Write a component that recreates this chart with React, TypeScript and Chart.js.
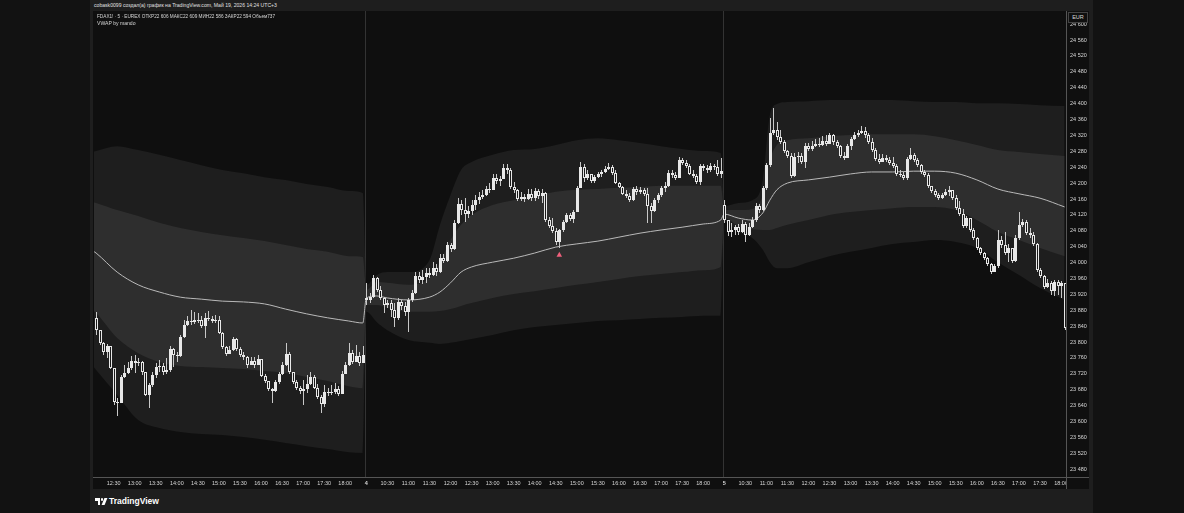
import React, { useEffect, useRef } from 'react';
import { Chart, registerables } from 'chart.js';

Chart.register(...registerables);

const FONT = '"Liberation Sans", Arial, Helvetica, sans-serif';

// ---- sessions ----
const SESSION_DATE_LABELS = ['', '4', '5'];
const SESSION_START_MIN = [12 * 60 + 5, 10 * 60, 10 * 60];
const DAY_OPEN = [23861, 23911, 24145];

// ---- day 1 candles (12:05 .. 18:25) ----
const D1_CLOSE = [
  23830, 23798, 23775, 23790, 23735, 23649, 23647, 23712, 23722, 23735,
  23752, 23747, 23750, 23725, 23667, 23692, 23717, 23737, 23740, 23725,
  23730, 23782, 23767, 23765, 23813, 23843, 23853, 23850, 23855, 23855,
  23840, 23861, 23858, 23853, 23855, 23823, 23788, 23770, 23780, 23808,
  23783, 23767, 23762, 23742, 23752, 23742, 23757, 23715, 23702, 23682,
  23677, 23700, 23720, 23742, 23770, 23725, 23700, 23684, 23677, 23682,
  23695, 23712, 23684, 23662, 23644, 23674, 23672, 23674, 23682, 23669,
  23720, 23742, 23772, 23750, 23765, 23747, 23767,
];
const D1_HIGH = [
  23876, 23823, 23800, 23795, 23780, 23735, 23659, 23717, 23742, 23750,
  23765, 23767, 23760, 23752, 23725, 23697, 23725, 23747, 23755, 23747,
  23760, 23790, 23785, 23775, 23818, 23855, 23866, 23881, 23876, 23873,
  23866, 23873, 23878, 23866, 23868, 23866, 23825, 23790, 23790, 23813,
  23810, 23788, 23775, 23765, 23762, 23762, 23767, 23755, 23720, 23702,
  23684, 23705, 23725, 23750, 23798, 23775, 23725, 23705, 23689, 23705,
  23717, 23725, 23717, 23695, 23667, 23692, 23684, 23692, 23697, 23689,
  23727, 23750, 23798, 23780, 23793, 23775, 23790,
];
const D1_LOW = [
  23818, 23793, 23767, 23760, 23732, 23642, 23614, 23647, 23710, 23720,
  23730, 23722, 23740, 23717, 23664, 23634, 23687, 23710, 23725, 23717,
  23720, 23725, 23737, 23750, 23762, 23810, 23840, 23843, 23845, 23848,
  23835, 23810, 23853, 23848, 23848, 23820, 23783, 23765, 23775, 23778,
  23778, 23762, 23755, 23735, 23742, 23735, 23750, 23712, 23697, 23677,
  23647, 23674, 23695, 23717, 23740, 23720, 23695, 23679, 23669, 23642,
  23672, 23692, 23682, 23657, 23622, 23637, 23664, 23667, 23669, 23664,
  23669, 23720, 23740, 23745, 23755, 23740, 23760,
];

// ---- day 2 candles (10:00 .. 18:25) ----
const D2_CLOSE = [
  23906, 23913, 23961, 23931, 23911, 23893, 23898, 23881, 23861, 23901,
  23891, 23876, 23906, 23923, 23966, 23956, 23964, 23974, 23969, 23986,
  23976, 24012, 24004, 24044, 24034, 24100, 24147, 24132, 24122, 24130,
  24145, 24157, 24165, 24170, 24185, 24183, 24213, 24205, 24210, 24238,
  24233, 24190, 24183, 24160, 24165, 24160, 24173, 24162, 24180, 24168,
  24175, 24107, 24092, 24079, 24052, 24082, 24102, 24120, 24110, 24127,
  24188, 24240, 24213, 24223, 24205, 24215, 24223, 24228, 24235, 24240,
  24225, 24200, 24190, 24173, 24168, 24157, 24185, 24178, 24183, 24173,
  24142, 24130, 24157, 24170, 24188, 24193, 24225, 24220, 24213, 24258,
  24250, 24243, 24223, 24218, 24203, 24243, 24238, 24233, 24243, 24240,
  24223, 24230,
];
const D2_HIGH = [
  23949, 23923, 23969, 23964, 23941, 23913, 23906, 23906, 23898, 23911,
  23906, 23901, 23911, 23931, 23976, 23976, 23981, 23986, 23986, 24001,
  23996, 24022, 24022, 24052, 24049, 24107, 24162, 24157, 24162, 24142,
  24157, 24170, 24178, 24183, 24193, 24200, 24223, 24223, 24218, 24248,
  24248, 24238, 24203, 24185, 24178, 24173, 24185, 24185, 24188, 24185,
  24185, 24178, 24115, 24112, 24087, 24084, 24107, 24125, 24125, 24132,
  24193, 24253, 24248, 24233, 24218, 24220, 24228, 24233, 24243, 24250,
  24245, 24233, 24203, 24193, 24183, 24175, 24190, 24193, 24190, 24188,
  24188, 24150, 24162, 24175, 24193, 24203, 24233, 24233, 24228, 24266,
  24263, 24258, 24248, 24233, 24223, 24248, 24248, 24245, 24250, 24248,
  24258, 24263,
];
const D2_LOW = [
  23893, 23898, 23911, 23926, 23906, 23873, 23886, 23863, 23838, 23855,
  23881, 23866, 23825, 23901, 23921, 23949, 23946, 23949, 23961, 23966,
  23966, 23974, 23999, 24001, 24027, 24032, 24097, 24120, 24102, 24112,
  24120, 24132, 24147, 24160, 24167, 24175, 24188, 24198, 24193, 24210,
  24223, 24185, 24175, 24155, 24155, 24152, 24157, 24155, 24155, 24160,
  24150, 24102, 24087, 24074, 24044, 24036, 24077, 24100, 24105, 24100,
  24127, 24188, 24203, 24208, 24200, 24200, 24213, 24215, 24225, 24233,
  24220, 24198, 24188, 24170, 24162, 24152, 24155, 24170, 24173, 24168,
  24100, 24100, 24127, 24150, 24165, 24178, 24190, 24213, 24208, 24213,
  24245, 24238, 24220, 24213, 24198, 24195, 24230, 24225, 24228, 24233,
  24218, 24213,
];

// ---- day 3 candles (10:00 .. 18:05) ----
const D3_CLOSE = [
  24107, 24077, 24082, 24089, 24077, 24097, 24069, 24089, 24107, 24142,
  24132, 24188, 24245, 24326, 24334, 24316, 24303, 24281, 24268, 24218,
  24266, 24268, 24253, 24293, 24286, 24293, 24298, 24296, 24306, 24298,
  24321, 24303, 24293, 24268, 24263, 24293, 24311, 24321, 24326, 24331,
  24321, 24303, 24283, 24261, 24253, 24263, 24258, 24251, 24243, 24223,
  24220, 24213, 24261, 24271, 24258, 24245, 24228, 24220, 24193, 24180,
  24170, 24162, 24170, 24178, 24183, 24162, 24137, 24122, 24092, 24112,
  24082, 24062, 24037, 24024, 24012, 23996, 23976, 23991, 24057, 24044,
  24024, 24037, 24004, 24062, 24095, 24102, 24074, 24069, 24047, 23981,
  23966, 23939, 23949, 23928, 23951, 23941, 23949, 23835,
];
const D3_HIGH = [
  24157, 24107, 24100, 24095, 24097, 24107, 24102, 24100, 24115, 24150,
  24147, 24193, 24250, 24364, 24389, 24354, 24334, 24308, 24283, 24276,
  24276, 24278, 24276, 24301, 24301, 24306, 24311, 24313, 24318, 24321,
  24326, 24323, 24308, 24296, 24278, 24298, 24316, 24328, 24334, 24343,
  24341, 24326, 24313, 24288, 24273, 24273, 24271, 24266, 24266, 24248,
  24233, 24228, 24266, 24288, 24276, 24263, 24248, 24233, 24225, 24193,
  24185, 24175, 24175, 24185, 24193, 24183, 24170, 24155, 24135, 24117,
  24112, 24087, 24064, 24039, 24027, 24014, 23999, 23996, 24082, 24067,
  24077, 24047, 24037, 24069, 24127, 24110, 24107, 24087, 24077, 24049,
  23986, 23969, 23959, 23954, 23956, 23956, 23954, 23944,
];
const D3_LOW = [
  24100, 24067, 24064, 24069, 24069, 24074, 24052, 24067, 24087, 24102,
  24125, 24130, 24183, 24240, 24321, 24308, 24298, 24276, 24263, 24213,
  24215, 24251, 24248, 24238, 24281, 24281, 24291, 24291, 24293, 24293,
  24298, 24296, 24288, 24263, 24258, 24263, 24283, 24308, 24316, 24323,
  24313, 24298, 24278, 24256, 24248, 24256, 24253, 24245, 24238, 24218,
  24215, 24208, 24208, 24258, 24253, 24240, 24223, 24215, 24188, 24175,
  24165, 24157, 24160, 24167, 24167, 24157, 24132, 24117, 24087, 24087,
  24077, 24057, 24032, 24019, 24006, 23991, 23971, 23976, 23986, 24037,
  24019, 24001, 23999, 24001, 24057, 24089, 24069, 24062, 24042, 23976,
  23961, 23934, 23936, 23918, 23916, 23918, 23911, 23830,
];

// ---- VWAP and deviation bands, sampled at bar indices ----
const BAND_K = [
  -1, 0, 6, 12, 18, 24, 30, 36, 42, 48, 54, 60, 66, 72, 76,
  77, 80, 83, 89, 95, 98, 101, 104, 107, 113, 119, 125, 131, 137, 143, 149, 155, 161, 167, 173, 178,
  179, 183, 187, 190, 192, 194, 197, 203, 209, 215, 221, 227, 233, 239, 245, 251, 257, 263, 269, 276,
];
const VWAP = [
  24030, 24024, 23976, 23944, 23926, 23913, 23908, 23903, 23901, 23896, 23883, 23871, 23861, 23853, 23848,
  23911, 23916, 23911, 23906, 23913, 23926, 23949, 23976, 23989, 24001, 24011, 24024, 24039, 24047, 24054, 24064, 24074, 24082, 24089, 24097, 24107,
  24122, 24112, 24107, 24125, 24157, 24183, 24200, 24208, 24215, 24223, 24228, 24228, 24230, 24230, 24225, 24208, 24185, 24173, 24162, 24140,
];
const UPPER1 = [
  24152, 24150, 24132, 24117, 24100, 24087, 24077, 24069, 24062, 24054, 24044, 24034, 24027, 24016, 24014,
  23931, 23951, 23949, 23944, 23961, 24001, 24057, 24095, 24120, 24145, 24157, 24167, 24178, 24183, 24185, 24188, 24190, 24193, 24193, 24193, 24193,
  24132, 24132, 24135, 24170, 24258, 24296, 24308, 24313, 24318, 24321, 24323, 24323, 24323, 24318, 24308, 24296, 24283, 24278, 24273, 24268,
];
const UPPER2 = [
  24279, 24281, 24293, 24283, 24271, 24258, 24245, 24233, 24225, 24215, 24208, 24198, 24190, 24180, 24175,
  23944, 23969, 23976, 23976, 24006, 24095, 24170, 24233, 24253, 24271, 24283, 24286, 24296, 24308, 24313, 24308, 24301, 24293, 24286, 24281, 24276,
  24142, 24150, 24157, 24208, 24371, 24399, 24404, 24406, 24409, 24409, 24409, 24409, 24406, 24404, 24404, 24401, 24401, 24399, 24396, 24394,
];
const LOWER1 = [
  23880, 23873, 23810, 23772, 23750, 23740, 23737, 23735, 23732, 23727, 23722, 23712, 23702, 23689, 23684,
  23893, 23893, 23886, 23876, 23876, 23878, 23883, 23891, 23898, 23911, 23921, 23928, 23936, 23944, 23951, 23959, 23966, 23971, 23976, 23981, 23989,
  24112, 24092, 24084, 24082, 24082, 24087, 24095, 24107, 24120, 24127, 24132, 24137, 24140, 24140, 24132, 24107, 24077, 24057, 24037, 24016,
];
const LOWER2 = [
  23740, 23730, 23667, 23604, 23584, 23574, 23569, 23566, 23561, 23554, 23546, 23538, 23531, 23523, 23521,
  23876, 23850, 23830, 23805, 23798, 23795, 23798, 23803, 23808, 23818, 23830, 23838, 23843, 23848, 23853, 23855, 23858, 23861, 23863, 23866, 23866,
  24102, 24077, 24062, 24032, 24001, 23986, 23986, 24001, 24016, 24027, 24037, 24047, 24052, 24057, 24052, 24037, 24001, 23969, 23936, 23906,
];

// signal marker (bar index, price)
const MARKER_K = [132];
const MARKER_PRICE = [24019];

// price axis ticks
const Y_TICK_START = 23480;
const Y_TICK_END = 24600;
const Y_TICK_STEP = 40;

const X_MIN = -0.6;
const X_MAX = 276.4;
const Y_MIN = 23460.5;
const Y_MAX = 24633;

const BG = '#0f0f0f';
const OUTER_BAND = '#1e1e1e';
const INNER_BAND = '#2e2e2e';
const TEXT = '#d6d6d6';

type Candle = { k: number; o: number; h: number; l: number; c: number };

function buildCandles(): { candles: Candle[]; dayStarts: number[]; ticks: { k: number; label: string; date: boolean }[] } {
  const days = [
    { c: D1_CLOSE, h: D1_HIGH, l: D1_LOW },
    { c: D2_CLOSE, h: D2_HIGH, l: D2_LOW },
    { c: D3_CLOSE, h: D3_HIGH, l: D3_LOW },
  ];
  const candles: Candle[] = [];
  const dayStarts: number[] = [];
  const ticks: { k: number; label: string; date: boolean }[] = [];
  let k = 0;
  days.forEach((d, di) => {
    dayStarts.push(k);
    d.c.forEach((c, i) => {
      const o = i === 0 ? DAY_OPEN[di] : d.c[i - 1];
      candles.push({ k, o, h: d.h[i], l: d.l[i], c });
      const m = SESSION_START_MIN[di] + 5 * i;
      if (i === 0 && SESSION_DATE_LABELS[di]) {
        ticks.push({ k, label: SESSION_DATE_LABELS[di], date: true });
      } else if (m % 30 === 0) {
        const hh = Math.floor(m / 60);
        const mm = m % 60;
        ticks.push({ k, label: `${hh}:${mm === 0 ? '00' : '30'}`, date: false });
      }
      k++;
    });
  });
  return { candles, dayStarts, ticks };
}

function fmtPrice(v: number): string {
  const t = Math.floor(v / 1000);
  const r = Math.round(v % 1000);
  return `${t} ${String(r).padStart(3, '0')}`;
}

export default function App() {
  const canvasRef = useRef<HTMLCanvasElement | null>(null);

  useEffect(() => {
    document.body.style.margin = '0';
    const { candles, dayStarts, ticks } = buildCandles();
    const tickMap = new Map<number, { label: string; date: boolean }>();
    ticks.forEach((t) => tickMap.set(t.k, t));
    const yTicks: number[] = [];
    for (let v = Y_TICK_START; v <= Y_TICK_END; v += Y_TICK_STEP) yTicks.push(v);

    const pts = (arr: number[]) => arr.map((v, i) => ({ x: BAND_K[i], y: v }));

    const plugin: any = {
      id: 'tvCandles',
      beforeDatasetsDraw(chart: any) {
        const { ctx, chartArea, scales } = chart;
        ctx.save();
        ctx.strokeStyle = '#333333';
        ctx.lineWidth = 1;
        dayStarts.slice(1).forEach((s) => {
          const px = Math.round(scales.x.getPixelForValue(s - 0.4)) + 0.5;
          ctx.beginPath();
          ctx.moveTo(px, chartArea.top);
          ctx.lineTo(px, chartArea.bottom);
          ctx.stroke();
        });
        ctx.restore();
      },
      afterDatasetsDraw(chart: any) {
        const { ctx, chartArea, scales } = chart;
        const xs = scales.x;
        const ys = scales.y;
        ctx.save();
        ctx.beginPath();
        ctx.rect(chartArea.left, chartArea.top, chartArea.right - chartArea.left, chartArea.bottom - chartArea.top);
        ctx.clip();
        for (const c of candles) {
          const px = Math.round(xs.getPixelForValue(c.k));
          const hi = Math.round(ys.getPixelForValue(Math.max(c.h, c.o, c.c)));
          const lo = Math.round(ys.getPixelForValue(Math.min(c.l, c.o, c.c)));
          ctx.fillStyle = '#c8c8c8';
          ctx.fillRect(px, hi, 1, Math.max(1, lo - hi));
          const top = Math.round(ys.getPixelForValue(Math.max(c.o, c.c)));
          const bot = Math.round(ys.getPixelForValue(Math.min(c.o, c.c)));
          const h = Math.max(1, bot - top);
          ctx.fillStyle = '#e8e8e8';
          ctx.fillRect(px - 1, top, 3, h);
          if (c.c < c.o && h > 2) {
            ctx.fillStyle = '#1a1a1a';
            ctx.fillRect(px, top + 1, 1, h - 2);
          }
        }
        ctx.restore();
      },
      afterDraw(chart: any) {
        const { ctx, chartArea, width, height } = chart;
        const r = Math.round(chartArea.right);
        const b = Math.round(chartArea.bottom);
        ctx.save();
        // empty corner below the price scale
        ctx.fillStyle = BG;
        ctx.fillRect(r + 1, b + 1, width - r - 1, height - b - 1);
        ctx.strokeStyle = '#555555';
        ctx.lineWidth = 1;
        ctx.beginPath();
        ctx.moveTo(r + 0.5, 0);
        ctx.lineTo(r + 0.5, height);
        ctx.moveTo(0, b + 0.5);
        ctx.lineTo(width, b + 0.5);
        ctx.stroke();
        ctx.restore();
      },
    };

    const tickFont = { family: FONT, size: 5.5 };
    const zeroPad = (s: any) => {
      s.paddingLeft = 0;
      s.paddingRight = 0;
      s.paddingTop = 0;
      s.paddingBottom = 0;
    };

    const chart = new Chart(canvasRef.current as HTMLCanvasElement, {
      type: 'line',
      data: {
        datasets: [
          {
            label: 'VWAP',
            data: pts(VWAP),
            borderColor: '#b9b9b9',
            borderWidth: 1,
            pointRadius: 0,
            cubicInterpolationMode: 'monotone',
            fill: false,
            order: 0,
          },
          {
            label: 'upper1',
            data: pts(UPPER1),
            borderColor: 'rgba(0,0,0,0)',
            borderWidth: 0,
            pointRadius: 0,
            cubicInterpolationMode: 'monotone',
            backgroundColor: INNER_BAND,
            fill: 3,
            order: 1,
          },
          {
            label: 'upper2',
            data: pts(UPPER2),
            borderColor: 'rgba(0,0,0,0)',
            borderWidth: 0,
            pointRadius: 0,
            cubicInterpolationMode: 'monotone',
            backgroundColor: OUTER_BAND,
            fill: 4,
            order: 2,
          },
          {
            label: 'lower1',
            data: pts(LOWER1),
            borderColor: 'rgba(0,0,0,0)',
            borderWidth: 0,
            pointRadius: 0,
            cubicInterpolationMode: 'monotone',
            fill: false,
            order: 3,
          },
          {
            label: 'lower2',
            data: pts(LOWER2),
            borderColor: 'rgba(0,0,0,0)',
            borderWidth: 0,
            pointRadius: 0,
            cubicInterpolationMode: 'monotone',
            fill: false,
            order: 4,
          },
          {
            label: 'signal',
            data: MARKER_K.map((k, i) => ({ x: k, y: MARKER_PRICE[i] })),
            showLine: false,
            pointStyle: 'triangle',
            pointRadius: 3.2,
            pointBackgroundColor: '#f0607c',
            pointBorderColor: '#f0607c',
            pointBorderWidth: 0,
            fill: false,
            order: -1,
          },
        ] as any,
      },
      options: {
        animation: false,
        responsive: true,
        maintainAspectRatio: false,
        events: [],
        layout: { autoPadding: false, padding: { left: 1, top: 0, right: 0, bottom: 0 } },
        plugins: { legend: { display: false }, tooltip: { enabled: false } },
        scales: {
          x: {
            type: 'linear',
            min: X_MIN,
            max: X_MAX,
            grid: { display: false, drawTicks: false },
            border: { display: false },
            afterFit: (s: any) => {
              s.height = 12;
              zeroPad(s);
            },
            afterBuildTicks: (s: any) => {
              s.ticks = ticks.map((t) => ({ value: t.k }));
            },
            ticks: {
              autoSkip: false,
              maxRotation: 0,
              padding: 3,
              color: TEXT,
              font: (ctx: any) => {
                const t = tickMap.get(ctx.tick ? ctx.tick.value : -1);
                return { family: FONT, size: 5.5, weight: t && t.date ? 'bold' : 'normal' } as any;
              },
              callback: (v: any) => {
                const t = tickMap.get(Number(v));
                return t ? t.label : '';
              },
            },
          },
          y: {
            type: 'linear',
            position: 'right',
            min: Y_MIN,
            max: Y_MAX,
            grid: { display: false, drawTicks: false },
            border: { display: false },
            afterFit: (s: any) => {
              s.width = 23;
              zeroPad(s);
            },
            afterBuildTicks: (s: any) => {
              s.ticks = yTicks.map((v) => ({ value: v }));
            },
            ticks: {
              autoSkip: false,
              padding: 4,
              color: TEXT,
              font: tickFont as any,
              callback: (v: any) => fmtPrice(Number(v)),
            },
          },
        },
      } as any,
      plugins: [plugin],
    });
    return () => chart.destroy();
  }, []);

  const small: React.CSSProperties = {
    position: 'absolute',
    fontSize: 5.1,
    color: TEXT,
    whiteSpace: 'nowrap',
    lineHeight: '7px',
  };

  return (
    <div
      style={{
        position: 'fixed',
        left: 0,
        top: 0,
        width: 1184,
        height: 513,
        background: '#121212',
        overflow: 'hidden',
        fontFamily: FONT,
      }}
    >
      <div style={{ position: 'absolute', left: 90, top: 0, width: 1003, height: 513, background: '#1e1e1e' }} />
      <div style={{ ...small, left: 94, top: 2, color: '#e0e0e0' }}>
        cobask0099 создал(а) график на TradingView.com, Май 19, 2026 14:24 UTC+3
      </div>
      <div style={{ position: 'absolute', left: 93, top: 11, width: 996, height: 478, background: BG }}>
        <canvas ref={canvasRef} />
      </div>
      <div style={{ ...small, fontSize: 4.7, left: 97, top: 13 }}>
        FDAX1! · 5 · EUREX ОТКР22 606 МАКС22 609 МИН22 586 ЗАКР22 594 Объем737
      </div>
      <div style={{ ...small, left: 97, top: 20 }}>VWAP by mando</div>
      <div
        style={{
          position: 'absolute',
          left: 1068,
          top: 12,
          width: 18,
          height: 9,
          border: '1px solid #444',
          background: BG,
          color: TEXT,
          fontSize: 5.5,
          lineHeight: '9px',
          textAlign: 'center',
        }}
      >
        EUR
      </div>
      {/* TradingView logo */}
      <div style={{ position: 'absolute', left: 95, top: 498, width: 5, height: 2.5, background: '#fff' }} />
      <div style={{ position: 'absolute', left: 97.5, top: 498, width: 2.5, height: 7, background: '#fff' }} />
      <div style={{ position: 'absolute', left: 100.8, top: 498, width: 2.6, height: 2.6, borderRadius: '50%', background: '#fff' }} />
      <div
        style={{
          position: 'absolute',
          left: 103,
          top: 498,
          width: 3,
          height: 7,
          background: '#fff',
          transform: 'skewX(-22deg)',
        }}
      />
      <div
        style={{
          position: 'absolute',
          left: 109,
          top: 495,
          fontSize: 8.5,
          fontWeight: 'bold',
          color: '#ffffff',
          lineHeight: '12px',
          whiteSpace: 'nowrap',
        }}
      >
        TradingView
      </div>
    </div>
  );
}
